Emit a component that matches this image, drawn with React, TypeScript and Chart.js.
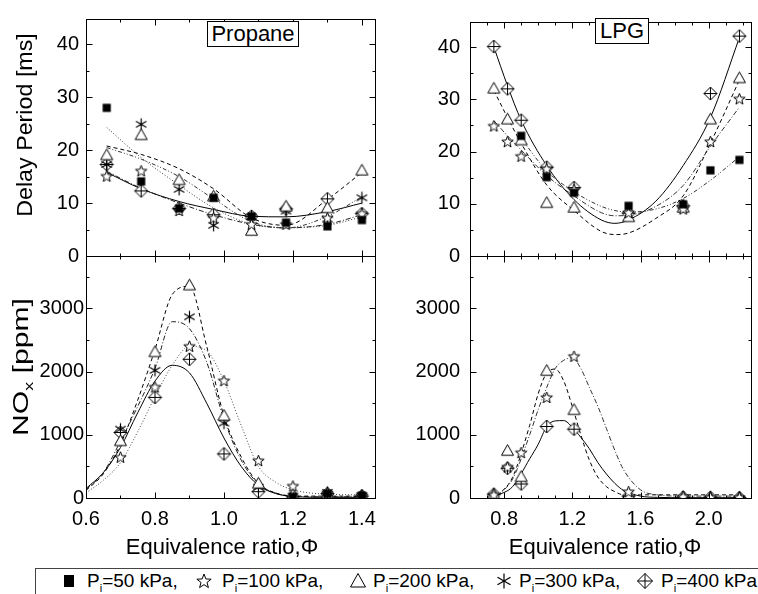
import React, { useEffect, useRef } from 'react';
import { Chart, registerables } from 'chart.js';

Chart.register(...registerables);

const FONT = 'Liberation Sans, Arial, Helvetica, sans-serif';
const W = 758;
const H = 594;

// ---------------- Propane: delay period [ms] ----------------
const propaneX = [0.66, 0.76, 0.87, 0.97, 1.08, 1.18, 1.3, 1.4];
const propDelay50 = [28.0, 14.1, 9.0, 11.0, 7.5, 6.3, 5.6, 6.8];
const propDelay100 = [15.1, 16.1, 8.6, 7.2, 6.0, 6.0, 7.2, 8.0];
const propDelay200 = [19.1, 22.9, 14.4, 11.3, 4.8, 9.4, 9.1, 16.2];
const propDelay300 = [17.3, 24.9, 12.6, 5.8, 7.4, 8.5, 7.0, 11.0];
const propDelay400 = [17.3, 12.3, 9.0, 7.8, 7.5, 8.9, 10.8, 8.0];

const propDelayFitX = [0.66, 0.76, 0.87, 0.97, 1.08, 1.18, 1.3, 1.4];
const propDelayFit50 = [24.3, 18.6, 13.4, 9.1, 6.0, 5.4, 5.8, 7.4];
const propDelayFit100 = [16.0, 12.8, 10.0, 7.8, 6.0, 5.3, 6.0, 7.8];
const propDelayFit200 = [20.8, 19.2, 16.5, 12.7, 7.2, 5.8, 10.7, 15.8];
const propDelayFit300 = [20.5, 18.3, 15.0, 10.8, 6.5, 5.3, 7.5, 11.2];
const propDelayFit400 = [15.8, 12.7, 10.3, 8.8, 7.5, 7.4, 8.4, 10.0];

// ---------------- Propane: NOx [ppm] ----------------
const propNoxX = [0.7, 0.8, 0.9, 1.0, 1.1, 1.2, 1.3, 1.4];
const propNox50 = [null, null, null, null, null, 20, 70, 40];
const propNox100 = [646, 1757, 2402, 1857, 592, 190, 80, 40];
const propNox200 = [905, 2313, 3370, 1306, 233, 50, 60, 40];
const propNox300 = [1090, 2020, 2868, 1185, 170, 30, 90, 40];
const propNox400 = [1037, 1592, 2195, 698, 100, 20, 70, 30];

const propNoxFitX = [0.6, 0.65, 0.7, 0.75, 0.8, 0.85, 0.9, 0.95, 1.0, 1.05, 1.1, 1.15, 1.2, 1.3, 1.4];
const propNoxFit100 = [80, 280, 560, 1050, 1600, 2100, 2400, 2330, 1850, 1150, 500, 250, 130, 60, 50];
const propNoxFit200 = [120, 380, 850, 1550, 2350, 3220, 3350, 2400, 1300, 650, 230, 80, 30, 30, 30];
const propNoxFit300 = [130, 400, 900, 1450, 2050, 2790, 2680, 2150, 1250, 600, 220, 80, 30, 20, 20];
const propNoxFit400 = [150, 400, 800, 1350, 1850, 2100, 1980, 1500, 950, 500, 200, 70, 25, 10, 10];

// ---------------- LPG: delay period [ms] ----------------
const lpgX = [0.74, 0.82, 0.9, 1.05, 1.21, 1.53, 1.85, 2.01, 2.18];
const lpgDelay50 = [null, null, 23.0, 15.1, 12.1, 9.6, 9.9, 16.4, 18.4];
const lpgDelay100 = [24.9, 21.9, 19.1, 16.7, 12.7, 8.3, 9.0, 21.9, 30.1];
const lpgDelay200 = [32.1, 26.2, 22.2, 10.2, 9.3, 7.5, 9.3, 26.2, 34.1];
const lpgDelay400 = [40.1, 32.0, 26.0, 17.0, 13.1, 8.2, 9.6, 31.1, 42.1];

const lpgDelayFitX = [0.74, 0.82, 0.9, 1.05, 1.21, 1.37, 1.45, 1.53, 1.69, 1.85, 2.01, 2.18];
const lpgDelayFit50 = [null, null, 22.5, 16.3, 12.3, 9.5, 8.7, 8.4, 9.0, 11.0, 14.5, 19.0];
const lpgDelayFit100 = [25.9, 23.0, 20.3, 15.4, 11.5, 8.3, 7.7, 7.8, 9.5, 13.5, 21.0, 28.5];
const lpgDelayFit200 = [31.7, 26.5, 21.6, 13.6, 8.7, 4.7, 4.1, 4.4, 7.2, 11.5, 21.6, 33.7];
const lpgDelayFit400 = [40.0, 32.6, 26.0, 17.3, 10.8, 6.9, 6.25, 6.9, 10.5, 17.3, 26.5, 41.8];

// ---------------- LPG: NOx [ppm] ----------------
const lpgNox100 = [50, 490, 719, 1592, 2243, 100, 20, 10, 10];
const lpgNox200 = [60, 750, 338, 2016, 1397, 50, 20, 10, 10];
const lpgNox400 = [60, 471, 222, 1132, 1090, 30, 10, 10, 5];

const lpgNoxFitX = [0.76, 0.85, 0.95, 1.0, 1.05, 1.1, 1.15, 1.2, 1.25, 1.3, 1.35, 1.4, 1.45, 1.5, 1.6, 1.7, 1.85, 2.18];
const lpgNoxFit100 = [30, 300, 1000, 1400, 1750, 2050, 2180, 2220, 2050, 1750, 1450, 1100, 750, 450, 130, 50, 30, 30];
const lpgNoxFit200 = [30, 330, 1150, 1650, 1980, 2040, 1850, 1450, 1000, 600, 330, 180, 100, 50, 50, 50, 50, 50];
const lpgNoxFit400 = [40, 180, 620, 850, 1130, 1220, 1225, 1120, 960, 780, 560, 380, 230, 120, 30, 10, 5, 5];

// ---------------- axes ----------------
const propXTicks = [0.6, 0.7, 0.8, 0.9, 1.0, 1.1, 1.2, 1.3, 1.4];
const lpgXTicks = [0.6, 0.7, 0.8, 0.9, 1.0, 1.1, 1.2, 1.3, 1.4, 1.5, 1.6, 1.7, 1.8, 1.9, 2.0, 2.1, 2.2];
const delayYTicks = [0, 5, 10, 15, 20, 25, 30, 35, 40];
const noxYTicks = [0, 500, 1000, 1500, 2000, 2500, 3000, 3500];

const legendLabels = ['50', '100', '200', '300', '400'];

type Marker = 'square' | 'star' | 'triangle' | 'asterisk' | 'diamond';
const markerOrder: Marker[] = ['square', 'star', 'triangle', 'asterisk', 'diamond'];

function drawMarker(g: CanvasRenderingContext2D, kind: Marker, r: number) {
  g.lineWidth = 1;
  g.strokeStyle = '#000';
  g.fillStyle = '#fff';
  g.beginPath();
  if (kind === 'square') {
    g.fillStyle = '#000';
    const s = r * 0.68;
    g.fillRect(-s, -s, 2 * s, 2 * s);
    return;
  }
  if (kind === 'star') {
    const R = r, ri = r * 0.42;
    for (let i = 0; i < 10; i++) {
      const a = -Math.PI / 2 + (i * Math.PI) / 5;
      const rr = i % 2 === 0 ? R : ri;
      const x = Math.cos(a) * rr, y = Math.sin(a) * rr + 0.5;
      if (i === 0) g.moveTo(x, y); else g.lineTo(x, y);
    }
    g.closePath();
    g.fill();
    g.stroke();
    return;
  }
  if (kind === 'triangle') {
    g.moveTo(0, -r);
    g.lineTo(r, r * 0.78);
    g.lineTo(-r, r * 0.78);
    g.closePath();
    g.fill();
    g.stroke();
    return;
  }
  if (kind === 'asterisk') {
    g.lineWidth = 1.2;
    for (const deg of [90, 30, 150]) {
      const a = (deg * Math.PI) / 180;
      g.moveTo(-Math.cos(a) * r, -Math.sin(a) * r);
      g.lineTo(Math.cos(a) * r, Math.sin(a) * r);
    }
    g.stroke();
    return;
  }
  // diamond with cross
  g.moveTo(0, -r);
  g.lineTo(r, 0);
  g.lineTo(0, r);
  g.lineTo(-r, 0);
  g.closePath();
  g.fill();
  g.stroke();
  g.beginPath();
  g.moveTo(0, -r);
  g.lineTo(0, r);
  g.moveTo(-r, 0);
  g.lineTo(r, 0);
  g.stroke();
}

function makeMarkerCanvas(kind: Marker, r: number): HTMLCanvasElement {
  const size = 2 * Math.ceil(r) + 3;
  const c = document.createElement('canvas');
  c.width = size;
  c.height = size;
  const g = c.getContext('2d')!;
  g.translate(size / 2, size / 2);
  drawMarker(g, kind, r);
  return c;
}

interface SeriesSpec { marker: Marker; xs: number[]; ys: (number | null)[] }
interface CurveSpec { xs: number[]; ys: (number | null)[]; dash: number[]; color: string }
interface PanelSpec {
  plot: { left: number; top: number; right: number; bottom: number };
  yAxisWidth: number;
  xAxisHeight: number;
  xMin: number; xMax: number; xTicks: number[];
  xMajor: (v: number) => boolean;
  xLabel: (v: number) => string;
  showXLabels: boolean;
  yMin: number; yMax: number; yTicks: number[];
  yMajor: (v: number) => boolean;
  yPad: number;
  points: SeriesSpec[];
  curves: CurveSpec[];
}

function framePlugin(xMajor: (v: number) => boolean, yMajor: (v: number) => boolean) {
  return {
    id: 'frame',
    afterDatasetsDraw(chart: any) {
      const { ctx, chartArea: a } = chart;
      const xs = chart.scales.x, ys = chart.scales.y;
      const L = Math.round(a.left), R = Math.round(a.right), T = Math.round(a.top), B = Math.round(a.bottom);
      ctx.save();
      ctx.setLineDash([]);
      ctx.strokeStyle = '#000';
      ctx.lineWidth = 1;
      ctx.beginPath();
      for (const t of xs.ticks) {
        const px = Math.round(xs.getPixelForValue(t.value)) + 0.5;
        const len = xMajor(t.value) ? 6 : 3;
        ctx.moveTo(px, B + 0.5); ctx.lineTo(px, B + 0.5 - len);
        ctx.moveTo(px, T + 0.5); ctx.lineTo(px, T + 0.5 + len);
      }
      for (const t of ys.ticks) {
        const py = Math.round(ys.getPixelForValue(t.value)) + 0.5;
        const len = yMajor(t.value) ? 6 : 3;
        ctx.moveTo(L + 0.5, py); ctx.lineTo(L + 0.5 + len, py);
        ctx.moveTo(R + 0.5, py); ctx.lineTo(R + 0.5 - len, py);
      }
      ctx.stroke();
      ctx.strokeRect(L + 0.5, T + 0.5, R - L, B - T);
      ctx.restore();
    },
  };
}

function buildConfig(p: PanelSpec, markers: Record<Marker, HTMLCanvasElement>): any {
  const pointSets = p.points.map((s) => ({
    data: s.xs.map((x, i) => ({ x, y: s.ys[i] })).filter((d) => d.y !== null),
    showLine: false,
    pointStyle: markers[s.marker],
    pointRadius: 6,
    pointHoverRadius: 6,
    order: 0,
  }));
  const lineSets = p.curves.map((c) => ({
    data: c.xs.map((x, i) => ({ x, y: c.ys[i] })).filter((d) => d.y !== null),
    showLine: true,
    pointRadius: 0,
    pointHoverRadius: 0,
    borderColor: c.color,
    borderWidth: 1,
    borderDash: c.dash,
    cubicInterpolationMode: 'monotone',
    fill: false,
    order: 1,
  }));
  const tickFont = { family: FONT, size: 20 };
  return {
    type: 'scatter',
    data: { datasets: [...pointSets, ...lineSets] },
    options: {
      animation: false,
      responsive: false,
      devicePixelRatio: 1,
      events: [],
      layout: {
        padding: {
          left: p.plot.left - p.yAxisWidth,
          top: p.plot.top,
          right: W - p.plot.right,
          bottom: H - p.plot.bottom - p.xAxisHeight,
        },
      },
      plugins: { legend: { display: false }, tooltip: { enabled: false }, title: { display: false } },
      scales: {
        x: {
          type: 'linear',
          min: p.xMin,
          max: p.xMax,
          afterBuildTicks: (s: any) => { s.ticks = p.xTicks.map((v) => ({ value: v })); },
          afterFit: (s: any) => { s.height = p.xAxisHeight; },
          grid: { display: false, drawTicks: false },
          border: { display: false },
          ticks: {
            display: p.showXLabels,
            autoSkip: false,
            maxRotation: 0,
            minRotation: 0,
            padding: 9,
            color: '#000',
            font: tickFont,
            callback: (v: any) => p.xLabel(Number(v)),
          },
        },
        y: {
          type: 'linear',
          min: p.yMin,
          max: p.yMax,
          afterBuildTicks: (s: any) => { s.ticks = p.yTicks.map((v) => ({ value: v })); },
          afterFit: (s: any) => { s.width = p.yAxisWidth; },
          grid: { display: false, drawTicks: false },
          border: { display: false },
          ticks: {
            autoSkip: false,
            padding: p.yPad,
            color: '#000',
            font: tickFont,
            callback: (v: any) => (p.yMajor(Number(v)) ? String(v) : ''),
          },
        },
      },
    },
    plugins: [framePlugin(p.xMajor, p.yMajor)],
  };
}

const DASH = [4, 3];
const DOT = [1, 2];
const DASHDOT = [5, 2, 1, 2];
const DASHDOTDOT = [4, 2, 1, 2, 1, 2];

function starPath(cx: number, cy: number, R: number): string {
  const pts: string[] = [];
  for (let i = 0; i < 10; i++) {
    const a = -Math.PI / 2 + (i * Math.PI) / 5;
    const rr = i % 2 === 0 ? R : R * 0.42;
    pts.push(`${(cx + Math.cos(a) * rr).toFixed(2)},${(cy + Math.sin(a) * rr + 0.5).toFixed(2)}`);
  }
  return pts.join(' ');
}

function LegendMarker({ kind }: { kind: Marker }) {
  const s = 18, c = 9, r = 7.5;
  let body: React.ReactNode = null;
  if (kind === 'square') body = <rect x={c - 5} y={c - 6} width={10} height={12} fill="#000" />;
  else if (kind === 'star') body = <polygon points={starPath(c, c, r)} fill="#fff" stroke="#000" strokeWidth={1} />;
  else if (kind === 'triangle') body = <polygon points={`${c},${c - r} ${c + r},${c + r * 0.8} ${c - r},${c + r * 0.8}`} fill="#fff" stroke="#000" strokeWidth={1} />;
  else if (kind === 'asterisk')
    body = (
      <g stroke="#000" strokeWidth={1.2}>
        {[90, 30, 150].map((d) => {
          const a = (d * Math.PI) / 180;
          return <line key={d} x1={c - Math.cos(a) * r} y1={c - Math.sin(a) * r} x2={c + Math.cos(a) * r} y2={c + Math.sin(a) * r} />;
        })}
      </g>
    );
  else
    body = (
      <g stroke="#000" strokeWidth={1} fill="#fff">
        <polygon points={`${c},${c - r} ${c + r},${c} ${c},${c + r} ${c - r},${c}`} />
        <line x1={c} y1={c - r} x2={c} y2={c + r} />
        <line x1={c - r} y1={c} x2={c + r} y2={c} />
      </g>
    );
  return (
    <svg width={s} height={s} style={{ display: 'block' }}>
      {body}
    </svg>
  );
}

export default function App() {
  const r0 = useRef<HTMLCanvasElement>(null);
  const r1 = useRef<HTMLCanvasElement>(null);
  const r2 = useRef<HTMLCanvasElement>(null);
  const r3 = useRef<HTMLCanvasElement>(null);

  useEffect(() => {
    const markers = {
      square: makeMarkerCanvas('square', 6),
      star: makeMarkerCanvas('star', 6),
      triangle: makeMarkerCanvas('triangle', 6),
      asterisk: makeMarkerCanvas('asterisk', 6),
      diamond: makeMarkerCanvas('diamond', 6.5),
    } as Record<Marker, HTMLCanvasElement>;

    const propMajor = (v: number) => Math.round(v * 10) % 2 === 0;
    const lpgMajor = (v: number) => Math.round(v * 10) % 4 === 0;
    const delayMajor = (v: number) => Math.round(v) % 10 === 0;
    const noxMajor = (v: number) => Math.round(v) % 1000 === 0;

    const tl: PanelSpec = {
      plot: { left: 86, top: 12, right: 375, bottom: 256 },
      yAxisWidth: 86, xAxisHeight: 0,
      xMin: 0.6, xMax: 1.438, xTicks: propXTicks, xMajor: propMajor, xLabel: () => '', showXLabels: false,
      yMin: 0, yMax: 44.8, yTicks: delayYTicks, yMajor: delayMajor, yPad: 7,
      points: [
        { marker: 'square', xs: propaneX, ys: propDelay50 },
        { marker: 'star', xs: propaneX, ys: propDelay100 },
        { marker: 'triangle', xs: propaneX, ys: propDelay200 },
        { marker: 'asterisk', xs: propaneX, ys: propDelay300 },
        { marker: 'diamond', xs: propaneX, ys: propDelay400 },
      ],
      curves: [
        { xs: propDelayFitX, ys: propDelayFit50, dash: DOT, color: '#333' },
        { xs: propDelayFitX, ys: propDelayFit100, dash: DASHDOT, color: '#222' },
        { xs: propDelayFitX, ys: propDelayFit200, dash: DASH, color: '#000' },
        { xs: propDelayFitX, ys: propDelayFit300, dash: DASHDOTDOT, color: '#333' },
        { xs: propDelayFitX, ys: propDelayFit400, dash: [], color: '#000' },
      ],
    };
    const tr: PanelSpec = {
      plot: { left: 470, top: 12, right: 756, bottom: 256 },
      yAxisWidth: 80, xAxisHeight: 0,
      xMin: 0.6, xMax: 2.248, xTicks: lpgXTicks, xMajor: lpgMajor, xLabel: () => '', showXLabels: false,
      yMin: 0, yMax: 44.8, yTicks: delayYTicks, yMajor: delayMajor, yPad: 10,
      points: [
        { marker: 'square', xs: lpgX, ys: lpgDelay50 },
        { marker: 'star', xs: lpgX, ys: lpgDelay100 },
        { marker: 'triangle', xs: lpgX, ys: lpgDelay200 },
        { marker: 'diamond', xs: lpgX, ys: lpgDelay400 },
      ],
      curves: [
        { xs: lpgDelayFitX, ys: lpgDelayFit50, dash: DASHDOTDOT, color: '#333' },
        { xs: lpgDelayFitX, ys: lpgDelayFit100, dash: DASHDOT, color: '#333' },
        { xs: lpgDelayFitX, ys: lpgDelayFit200, dash: DASH, color: '#000' },
        { xs: lpgDelayFitX, ys: lpgDelayFit400, dash: [], color: '#000' },
      ],
    };
    const bl: PanelSpec = {
      plot: { left: 86, top: 256, right: 375, bottom: 498 },
      yAxisWidth: 86, xAxisHeight: 40,
      xMin: 0.6, xMax: 1.438, xTicks: propXTicks, xMajor: propMajor,
      xLabel: (v) => (propMajor(v) ? v.toFixed(1) : ''), showXLabels: true,
      yMin: 0, yMax: 3830, yTicks: noxYTicks, yMajor: noxMajor, yPad: 2,
      points: [
        { marker: 'square', xs: propNoxX, ys: propNox50 },
        { marker: 'star', xs: propNoxX, ys: propNox100 },
        { marker: 'triangle', xs: propNoxX, ys: propNox200 },
        { marker: 'asterisk', xs: propNoxX, ys: propNox300 },
        { marker: 'diamond', xs: propNoxX, ys: propNox400 },
      ],
      curves: [
        { xs: propNoxFitX, ys: propNoxFit100, dash: DOT, color: '#444' },
        { xs: propNoxFitX, ys: propNoxFit200, dash: DASH, color: '#000' },
        { xs: propNoxFitX, ys: propNoxFit300, dash: DASHDOT, color: '#222' },
        { xs: propNoxFitX, ys: propNoxFit400, dash: [], color: '#000' },
      ],
    };
    const br: PanelSpec = {
      plot: { left: 470, top: 256, right: 756, bottom: 498 },
      yAxisWidth: 80, xAxisHeight: 40,
      xMin: 0.6, xMax: 2.248, xTicks: lpgXTicks, xMajor: lpgMajor,
      xLabel: (v) => (lpgMajor(v) ? v.toFixed(1) : ''), showXLabels: true,
      yMin: 0, yMax: 3830, yTicks: noxYTicks, yMajor: noxMajor, yPad: 10,
      points: [
        { marker: 'star', xs: lpgX, ys: lpgNox100 },
        { marker: 'triangle', xs: lpgX, ys: lpgNox200 },
        { marker: 'diamond', xs: lpgX, ys: lpgNox400 },
      ],
      curves: [
        { xs: lpgNoxFitX, ys: lpgNoxFit100, dash: DASHDOT, color: '#333' },
        { xs: lpgNoxFitX, ys: lpgNoxFit200, dash: DASH, color: '#000' },
        { xs: lpgNoxFitX, ys: lpgNoxFit400, dash: [], color: '#000' },
      ],
    };

    const charts = [
      new Chart(r0.current!, buildConfig(tl, markers)),
      new Chart(r1.current!, buildConfig(tr, markers)),
      new Chart(r2.current!, buildConfig(bl, markers)),
      new Chart(r3.current!, buildConfig(br, markers)),
    ];
    return () => charts.forEach((c) => c.destroy());
  }, []);

  const canvasStyle: React.CSSProperties = { position: 'absolute', left: 0, top: 0, width: W, height: H };
  const legendMarkerX = [33, 168, 322, 468, 609];
  const legendTextX = [51, 186, 337, 483, 625];
  const sub: React.CSSProperties = { fontSize: 11, verticalAlign: '-5px', color: '#000' };
  const rotated = (cx: number, cy: number, len: number, natural: number): React.CSSProperties => ({
    position: 'absolute', left: cx, top: cy, whiteSpace: 'nowrap', fontSize: 22, lineHeight: '24px',
    transform: `translate(-50%, -50%) rotate(-90deg) scaleX(${(len / natural).toFixed(3)})`,
  });

  return (
    <div style={{ position: 'absolute', left: 0, top: 0, width: W, height: H, overflow: 'hidden', background: '#fff', fontFamily: FONT, color: '#000' }}>
      <canvas ref={r0} width={W} height={H} style={canvasStyle} />
      <canvas ref={r1} width={W} height={H} style={canvasStyle} />
      <canvas ref={r2} width={W} height={H} style={canvasStyle} />
      <canvas ref={r3} width={W} height={H} style={canvasStyle} />

      <div style={{ position: 'absolute', left: 207, top: 21, width: 90, height: 24, border: '1px solid #000', background: '#fff', fontSize: 22, lineHeight: '24px', textAlign: 'center' }}>Propane</div>
      <div style={{ position: 'absolute', left: 595, top: 18, width: 52, height: 24, border: '1px solid #000', background: '#fff', fontSize: 22, lineHeight: '24px', textAlign: 'center' }}>LPG</div>

      <div style={rotated(25, 125, 182, 172)}>Delay Period [ms]</div>
      <div style={rotated(25, 367, 148, 108)}>
        NO<span style={{ fontSize: 13, verticalAlign: '-5px' }}>x</span> [ppm]
      </div>

      <div style={{ position: 'absolute', left: 222, top: 547, transform: 'translate(-50%, -50%)', whiteSpace: 'nowrap', fontSize: 22, lineHeight: '24px' }}>Equivalence ratio,{'\u03A6'}</div>
      <div style={{ position: 'absolute', left: 605, top: 547, transform: 'translate(-50%, -50%)', whiteSpace: 'nowrap', fontSize: 22, lineHeight: '24px' }}>Equivalence ratio,{'\u03A6'}</div>

      <div style={{ position: 'absolute', left: 35, top: 568, width: 740, height: 40, border: '1px solid #444', background: '#fff' }}>
        {markerOrder.map((m, i) => (
          <React.Fragment key={m}>
            <div style={{ position: 'absolute', left: legendMarkerX[i] - 9, top: 3 }}>
              <LegendMarker kind={m} />
            </div>
            <div style={{ position: 'absolute', left: legendTextX[i], top: 0, fontSize: 19, lineHeight: '24px', whiteSpace: 'nowrap' }}>
              P<span style={sub}>i</span>={legendLabels[i]} kPa{i < 4 ? ',' : ''}
            </div>
          </React.Fragment>
        ))}
      </div>
    </div>
  );
}
